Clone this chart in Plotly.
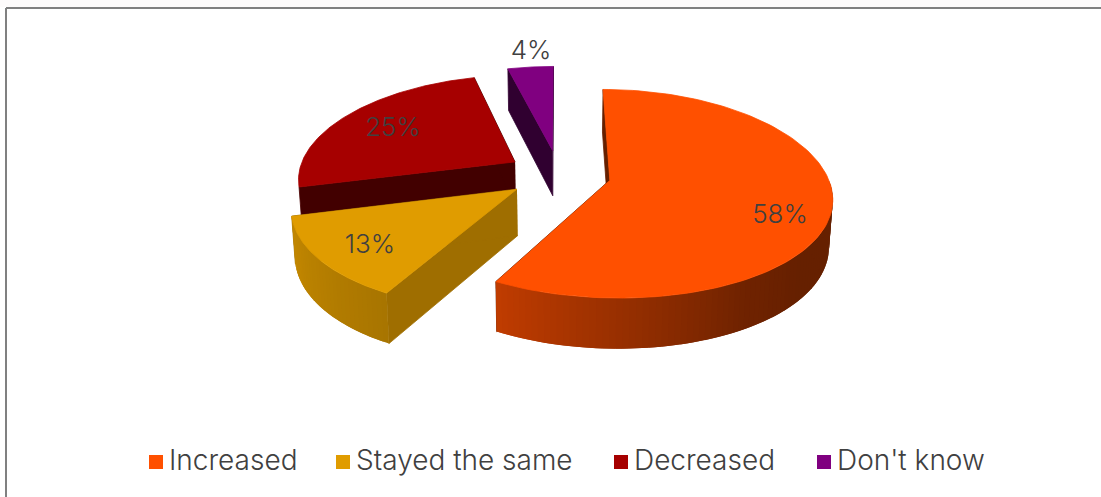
"""Exploded 3D-look pie: tilted wedges drawn as filled scatter polygons."""

import numpy as np
import plotly.graph_objects as go

CATEGORIES = ["Increased", "Stayed the same", "Decreased", "Don't know"]
VALUES = [58, 13, 25, 4]

COLORS = [(255, 80, 0), (224, 156, 0), (166, 0, 0), (128, 0, 128)]
WALL_SHADE = [0.4, 0.71, 0.4, 0.375]
LABEL_XY = [(780, 216), (370, 246), (393, 129), (531, 52)]
LEGEND_X = [156, 343, 621, 824]
LEGEND_Y = 462
FONT = "Inter"
TEXT_COLOR = "#404040"

# tilt / perspective of the fake 3D view
X0, Y0 = 559, 174
RADIUS, EXPLODE, DEPTH = 217, 52, 46
TILT = 0.465


def project(x, u, d=0.0):
    x, u, d = np.asarray(x, float), np.asarray(u, float), np.asarray(d, float)
    px = X0 + x / (1 + 0.0007 * u) * (1 - 0.0003 * d)
    py = Y0 - TILT * u / (1 + 0.0006 * u) + d / (1 + 0.0004 * u)
    return px, py


def rgb(color, shade=1.0):
    r, g, b = [int(c * shade) for c in color]
    return f"rgb({r},{g},{b})"


def poly(fig, xs, ys, color, width=0.8):
    fig.add_trace(go.Scatter(
        x=xs, y=ys, mode="lines", fill="toself", fillcolor=color,
        line=dict(color=color, width=width), hoverinfo="skip", showlegend=False,
    ))


def rim_shade(theta):
    return np.interp(theta, [90, 130, 150, 180, 208, 256],
                     [0.4, 0.4, 0.44, 0.6, 0.75, 0.88])


def draw_slice(fig, start, end, color, wall):
    mid = np.radians((start + end) / 2)
    ox, ou = EXPLODE * np.sin(mid), EXPLODE * np.cos(mid)

    def rim(deg):
        t = np.radians(deg)
        return ox + RADIUS * np.sin(t), ou + RADIUS * np.cos(t)

    # radial walls first, the top covers whichever one faces away
    for deg in (start, end):
        rx, ru = rim(deg)
        xs, ys = project([ox, rx, rx, ox], [ou, ru, ru, ou], [0, 0, DEPTH, DEPTH])
        poly(fig, xs, ys, rgb(color, wall))

    # outer rim, each strip runs on under the next so no seams show
    lo, hi = max(start, 90), min(end, 256)
    if hi > lo:
        cuts = np.linspace(lo, hi, int((hi - lo) / 1.5) + 2)
        for a, b in zip(cuts[:-1], cuts[1:]):
            arc = np.linspace(a, hi if b == hi else b + 1.5, 6)
            rx, ru = rim(np.r_[arc, arc[::-1]])
            xs, ys = project(rx, ru, [0] * 6 + [DEPTH] * 6)
            poly(fig, xs, ys, rgb(color, rim_shade((a + b) / 2)), width=0)

    rx, ru = rim(np.linspace(start, end, 120))
    xs, ys = project(np.r_[ox, rx], np.r_[ou, ru])
    poly(fig, xs, ys, rgb(color))


fig = go.Figure()

edges = np.cumsum([0] + VALUES) * 3.6
for i in reversed(range(len(VALUES))):
    draw_slice(fig, edges[i], edges[i + 1], COLORS[i], WALL_SHADE[i])

for i, v in enumerate(VALUES):
    fig.add_trace(go.Scatter(
        x=[LABEL_XY[i][0]], y=[LABEL_XY[i][1]], mode="text", text=[f"{v}%"],
        textfont=dict(family=FONT, size=26, color=TEXT_COLOR, weight=300),
        hoverinfo="skip", showlegend=False,
    ))

for name, lx, color in zip(CATEGORIES, LEGEND_X, COLORS):
    fig.add_trace(go.Scatter(
        x=[lx], y=[LEGEND_Y], mode="markers", marker=dict(symbol="square", size=14, color=rgb(color)),
        name=name, showlegend=False,
    ))
    fig.add_trace(go.Scatter(
        x=[lx + 13], y=[LEGEND_Y + 1], mode="text", text=[name], textposition="middle right",
        textfont=dict(family=FONT, size=28, color=TEXT_COLOR, weight=300),
        hoverinfo="skip", showlegend=False,
    ))

fig.update_layout(
    width=1101, height=497,
    margin=dict(l=0, r=0, t=0, b=0),
    paper_bgcolor="white", plot_bgcolor="white",
    xaxis=dict(range=[0, 1101], visible=False, fixedrange=True),
    yaxis=dict(range=[497, 0], visible=False, fixedrange=True),
    shapes=[
        dict(type="rect", x0=0, x1=1101, y0=0, y1=7, fillcolor="#FDFBFB", line_width=0, layer="below"),
        dict(type="line", x0=6, x1=1101, y0=8, y1=8, line=dict(color="#808080", width=2)),
        dict(type="line", x0=6, x1=6, y0=8, y1=497, line=dict(color="#808080", width=2)),
    ],
)

fig.write_html("out.html", post_script="document.body.style.margin='0';", config={"displayModeBar": False})
